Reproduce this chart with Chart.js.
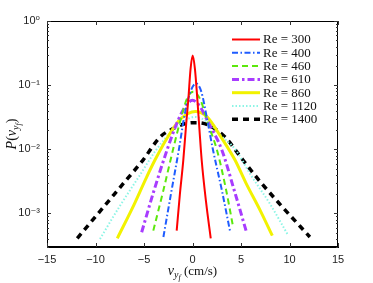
<!DOCTYPE html>
<html><head><meta charset="utf-8">
<script src="https://cdn.jsdelivr.net/npm/chart.js@4/dist/chart.umd.min.js"></script>
<style>html,body{margin:0;padding:0;background:#fff}canvas{display:block}</style>
</head><body>
<canvas id="c" width="373" height="283"></canvas>
<script>
// ---- data ----
const seriesLabels = ['Re = 300','Re = 400','Re = 460','Re = 610','Re = 860','Re = 1120','Re = 1400'];
const re300X = [-1.63,-1.3,-0.95,-0.65,-0.43,-0.2,0.02,0.25,0.5,0.72,0.95,1.4,1.88];
const re300P = [5.4e-4,2e-3,6.7e-3,0.025,0.06,0.18,0.29,0.18,0.06,0.02,6.7e-3,1.5e-3,4.1e-4];
const re400X = [-3.0,-2.2,-1.4,-0.8,-0.2,0.36,0.9,1.5,2.1,3.0,3.87];
const re400P = [4.3e-4,2.1e-3,0.01,0.035,0.08,0.106,0.08,0.03,0.01,2.4e-3,5.3e-4];
const re460X = [-4.04,-3.0,-2.0,-1.2,-0.5,0.1,0.8,1.6,2.5,3.4,4.2];
const re460P = [5.4e-4,2.3e-3,0.01,0.03,0.065,0.079,0.06,0.025,0.01,2.6e-3,6e-4];
const re610X = [-5.24,-4.0,-2.6,-1.5,-0.6,0.0,0.7,1.7,3.0,4.3,5.52];
const re610P = [5.1e-4,2.2e-3,0.01,0.028,0.05,0.058,0.048,0.025,0.01,2.3e-3,5.4e-4];
const re860X = [-7.75,-6.0,-4.8,-3.87,-2.5,-1.2,0.3,1.5,3.0,4.38,5.5,7.0,8.23];
const re860P = [4.1e-4,1.4e-3,3.5e-3,6.8e-3,0.016,0.03,0.039,0.032,0.015,6.8e-3,3e-3,1.1e-3,4.5e-4];
const re1120X = [-9.54,-7.5,-5.5,-3.7,-2.0,-0.8,0.25,1.5,3.0,4.4,6.0,8.0,9.88];
const re1120P = [4e-4,1.3e-3,3.8e-3,0.01,0.02,0.028,0.032,0.027,0.016,0.01,4e-3,1.4e-3,4.5e-4];
const re1400X = [-11.88,-9.0,-7.0,-5.1,-3.35,-2.0,-0.8,0.4,1.6,3.35,5.2,7.0,9.0,12.1];
const re1400P = [4.1e-4,1.35e-3,3.1e-3,6.8e-3,0.0155,0.021,0.025,0.026,0.024,0.0155,6.8e-3,3.1e-3,1.4e-3,4.3e-4];

const xTicks = [-15,-10,-5,0,5,10,15];
const yTicks = [1e-3,1e-2,1e-1,1];
const yTickLabels = ['10\u207B\u00B3','10\u207B\u00B2','10\u207B\u00B9','10\u2070'];

// ---- styles ----
const styles = [
  {c:'#ff0000', w:2,   d:[]},
  {c:'#1f5cff', w:2,   d:[6,2.5,1.5,2.5]},
  {c:'#5ce80c', w:2,   d:[6,4]},
  {c:'#a83cff', w:3,   d:[7,3,2.5,3]},
  {c:'#f2f200', w:3,   d:[]},
  {c:'#8cf5e6', w:2,   d:[1.5,2]},
  {c:'#000000', w:3.5, d:[6,5]}
];
const xs = [re300X,re400X,re460X,re610X,re860X,re1120X,re1400X];
const ps = [re300P,re400P,re460P,re610P,re860P,re1120P,re1400P];

const datasets = seriesLabels.map((lab,i)=>({
  label: lab,
  data: xs[i].map((x,j)=>({x:x, y:ps[i][j]})),
  borderColor: styles[i].c,
  borderWidth: styles[i].w,
  borderDash: styles[i].d,
  pointRadius: 0,
  fill: false,
  cubicInterpolationMode: 'monotone'
}));

const SANS = "'Liberation Sans','DejaVu Sans',Arial,sans-serif";
const SERIF = "'Liberation Serif','DejaVu Serif',serif";

const framePlugin = {
  id: 'frame',
  afterDraw(chart){
    const ctx = chart.ctx, a = chart.chartArea;
    const xS = chart.scales.x, yS = chart.scales.y;
    ctx.save();
    ctx.strokeStyle = '#000'; ctx.lineWidth = 1; ctx.setLineDash([]);
    ctx.strokeRect(Math.round(a.left)+0.5, Math.round(a.top)+0.5, Math.round(a.right-a.left)-1, Math.round(a.bottom-a.top)-1);
    ctx.strokeStyle = '#333';
    ctx.beginPath();
    xTicks.forEach(v=>{
      const px = Math.round(xS.getPixelForValue(v))+0.5;
      ctx.moveTo(px, a.bottom); ctx.lineTo(px, a.bottom-4);
      ctx.moveTo(px, a.top); ctx.lineTo(px, a.top+4);
    });
    for (let e=-4; e<=0; e++){
      for (let m=1; m<=9; m++){
        const v = m*Math.pow(10,e);
        if (v < yS.min || v > yS.max) continue;
        const py = Math.round(yS.getPixelForValue(v))+0.5;
        const len = m===1 ? 4 : 2;
        ctx.moveTo(a.left, py); ctx.lineTo(a.left+len, py);
        ctx.moveTo(a.right, py); ctx.lineTo(a.right-len, py);
      }
    }
    ctx.stroke();

    // legend
    const lx0 = 232, lx1 = 260, ly0 = 39.5, dy = 13.3;
    chart.data.datasets.forEach((ds,i)=>{
      const y = ly0 + i*dy;
      ctx.strokeStyle = ds.borderColor; ctx.lineWidth = ds.borderWidth;
      ctx.setLineDash(ds.borderDash);
      ctx.beginPath(); ctx.moveTo(lx0,y); ctx.lineTo(lx1,y); ctx.stroke();
      ctx.setLineDash([]);
      ctx.fillStyle = '#111';
      ctx.font = '13px ' + SERIF;
      ctx.textBaseline = 'middle'; ctx.textAlign = 'left';
      ctx.fillText(ds.label, 263, y+0.5);
    });

    // x title
    function drawTitle(cx, cy){
      const parts = [
        {t:'v', f:'italic 14px '+SERIF, dy:0},
        {t:'y', f:'italic 10px '+SERIF, dy:3},
        {t:'f', f:'italic 8px '+SERIF, dy:5},
        {t:' (cm/s)', f:'13px '+SERIF, dy:0}
      ];
      let w = 0;
      parts.forEach(p=>{ ctx.font=p.f; p.w=ctx.measureText(p.t).width; w+=p.w; });
      let x = cx - w/2;
      ctx.fillStyle = '#111'; ctx.textBaseline='alphabetic'; ctx.textAlign='left';
      parts.forEach(p=>{ ctx.font=p.f; ctx.fillText(p.t, x, cy+p.dy); x+=p.w; });
    }
    drawTitle(192.5, 275);

    // y title
    ctx.save();
    ctx.translate(16, (a.top+a.bottom)/2);
    ctx.rotate(-Math.PI/2);
    const yparts = [
      {t:'P', f:'italic 14px '+SERIF, dy:0},
      {t:'(', f:'14px '+SERIF, dy:0},
      {t:'v', f:'italic 14px '+SERIF, dy:0},
      {t:'y', f:'italic 10px '+SERIF, dy:3},
      {t:'f', f:'italic 8px '+SERIF, dy:5},
      {t:')', f:'14px '+SERIF, dy:0}
    ];
    let w2 = 0;
    yparts.forEach(p=>{ ctx.font=p.f; p.w=ctx.measureText(p.t).width; w2+=p.w; });
    let x2 = -w2/2;
    ctx.fillStyle='#111'; ctx.textBaseline='alphabetic'; ctx.textAlign='left';
    yparts.forEach(p=>{ ctx.font=p.f; ctx.fillText(p.t, x2, p.dy); x2+=p.w; });
    ctx.restore();
    ctx.restore();
  }
};

new Chart(document.getElementById('c'), {
  type: 'line',
  data: { datasets },
  options: {
    responsive: false,
    animation: false,
    devicePixelRatio: 1,
    layout: { padding: { top: 21, right: 35, left: 0, bottom: 0 } },
    plugins: { legend: { display: false }, tooltip: { enabled: false } },
    scales: {
      x: {
        type: 'linear', min: -15, max: 15,
        afterBuildTicks: s => { s.ticks = xTicks.map(v=>({value:v})); },
        afterFit: s => { s.height = 36; },
        grid: { display: true, drawOnChartArea: false, drawTicks: false },
        border: { display: true, color: '#000' },
        ticks: { padding: 6, color: '#222', font: { family: SANS, size: 11 },
          callback: v => v < 0 ? '\u2212' + Math.abs(v) : String(v) }
      },
      y: {
        type: 'logarithmic', min: 3e-4, max: 1,
        afterBuildTicks: s => { s.ticks = yTicks.map(v=>({value:v})); },
        afterFit: s => { s.width = 47; },
        grid: { display: true, drawOnChartArea: false, drawTicks: false },
        border: { display: true, color: '#000' },
        ticks: { padding: 7, color: '#222', font: { family: SANS, size: 11 },
          callback: v => { const i = yTicks.indexOf(v); return i >= 0 ? yTickLabels[i] : ''; } }
      }
    }
  },
  plugins: [framePlugin]
});
</script>
</body></html>
